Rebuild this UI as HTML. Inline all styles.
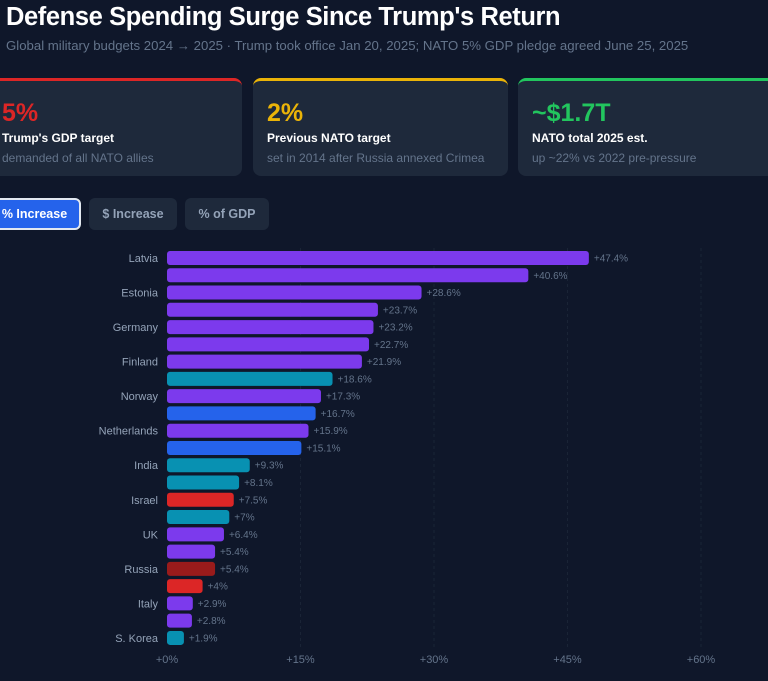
<!DOCTYPE html>
<html><head><meta charset="utf-8"><style>
*{box-sizing:border-box;margin:0;padding:0}
body{width:768px;height:681px;overflow:hidden;background:#0f172a;font-family:"Liberation Sans",sans-serif;position:relative}
.title{position:absolute;left:6px;top:3px;font-size:25.5px;font-weight:bold;color:#fff;letter-spacing:-0.4px}
.sub{position:absolute;left:6px;top:38px;font-size:13.2px;color:#64748b}
.card{position:absolute;top:78px;height:98px;background:#1e293b;border-radius:8px;border-top:3px solid}
.card .big{position:absolute;left:14px;top:18px;font-size:25px;font-weight:bold}
.card .lbl{position:absolute;left:14px;top:50px;font-size:12px;font-weight:bold;color:#fff}
.card .desc{position:absolute;left:14px;top:70px;font-size:12px;color:#64748b}
.btn{position:absolute;top:198px;height:32px;border-radius:6px;background:#1e293b;color:#94a3b8;font-size:12.5px;font-weight:bold;line-height:32px;text-align:center}
</style></head><body>
<div class="title">Defense Spending Surge Since Trump's Return</div>
<div class="sub">Global military budgets 2024 → 2025 · Trump took office Jan 20, 2025; NATO 5% GDP pledge agreed June 25, 2025</div>
<div class="card" style="left:-12px;width:254px;border-color:#dc2626"><div class="big" style="color:#dc2626">5%</div><div class="lbl">Trump's GDP target</div><div class="desc">demanded of all NATO allies</div></div>
<div class="card" style="left:253px;width:255px;border-color:#eab308"><div class="big" style="color:#eab308">2%</div><div class="lbl">Previous NATO target</div><div class="desc">set in 2014 after Russia annexed Crimea</div></div>
<div class="card" style="left:518px;width:262px;border-color:#22c55e"><div class="big" style="color:#22c55e">~$1.7T</div><div class="lbl">NATO total 2025 est.</div><div class="desc">up ~22% vs 2022 pre-pressure</div></div>
<div class="btn" style="left:-12px;width:93px;background:#2563eb;color:#fff;border:2px solid #e2e8f0;line-height:28px">% Increase</div>
<div class="btn" style="left:89px;width:88px">$ Increase</div>
<div class="btn" style="left:185px;width:84px">% of GDP</div>
<svg id="chart" width="768" height="681" style="position:absolute;left:0;top:0"></svg>
<script>
const categories=["Latvia","Lithuania","Estonia","Poland","Germany","Denmark","Finland","Saudi Arabia","Norway","USA","Netherlands","Canada","India","Japan","Israel","Turkey","UK","France","Russia","Iran","Italy","Spain","S. Korea"];
const values=[47.4,40.6,28.6,23.7,23.2,22.7,21.9,18.6,17.3,16.7,15.9,15.1,9.3,8.1,7.5,7,6.4,5.4,5.4,4,2.9,2.8,1.9];
const groups=["nato","nato","nato","nato","nato","nato","nato","other","nato","us","nato","us","other","other","israel","other","nato","nato","russia","israel","nato","nato","other"];
const tickValues=[0,15,30,45,60];
const colors={nato:"#7c3aed",other:"#0891b2",us:"#2563eb",israel:"#dc2626",russia:"#991b1b"};
const NS="http://www.w3.org/2000/svg";
const svg=document.getElementById('chart');
const x0=167,x1=701,y0=258,step=17.27,bh=14;
const xs=v=>x0+(v-tickValues[0])/(tickValues[tickValues.length-1]-tickValues[0])*(x1-x0);
const ys=i=>y0+i*step;
function mk(t,a){const e=document.createElementNS(NS,t);for(const k in a)e.setAttribute(k,a[k]);svg.appendChild(e);return e;}
tickValues.forEach((t,i)=>{
  if(i>0){const g=mk('line',{x1:xs(t),x2:xs(t),y1:248,y2:648,stroke:'#1a2436','stroke-dasharray':'3,3'});
  
  }
  const tx=mk('text',{x:xs(t),y:663,'text-anchor':'middle','font-size':'11',fill:'#64748b'});
  tx.textContent='+'+t+'%';
  
  
});
values.forEach((v,i)=>{
  const y=ys(i);
  const r=mk('rect',{x:x0,y:y-bh/2,width:Math.max(0,xs(v)-x0),height:bh,rx:3,fill:colors[groups[i]]});
  
  
  const vl=mk('text',{x:xs(v)+5,y:y+3.5,'font-size':'10',fill:'#64748b'});
  vl.textContent='+'+v+'%';
  
  
  if(i%2===0){
    const cl=mk('text',{x:158,y:y+4,'text-anchor':'end','font-size':'11',fill:'#94a3b8'});
    cl.textContent=categories[i];
    
    
  }
});
</script>
</body></html>
